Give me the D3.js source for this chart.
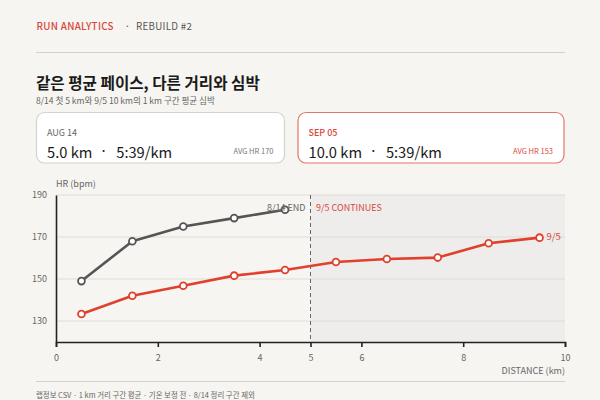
<!DOCTYPE html>
<html><head><meta charset="utf-8">
<script src="https://cdn.jsdelivr.net/npm/d3@7/dist/d3.min.js"></script>
<style>
html,body{margin:0;padding:0;background:#f6f5f1;}
svg{display:block;font-family:"Noto Sans CJK KR","Noto Sans",sans-serif;}
</style></head>
<body><svg id="c" width="600" height="400"></svg>
<script>
const aug14Km = [0.5, 1.5, 2.5, 3.5, 4.5];
const aug14Hr = [149, 168, 175, 179, 183];
const sep05Km = [0.5, 1.5, 2.5, 3.5, 4.5, 5.5, 6.5, 7.5, 8.5, 9.5];
const sep05Hr = [133.3, 142, 146.8, 151.6, 154.3, 158.1, 159.5, 160.2, 167, 169.7];
const xTicks = [0, 2, 4, 5, 6, 8, 10];
const yTicks = [130, 150, 170, 190];
const cards = [
  {date: "AUG 14", dist: "5.0 km", pace: "5:39/km", hr: 170},
  {date: "SEP 05", dist: "10.0 km", pace: "5:39/km", hr: 153}
];

const RED = "#e0402c", GRAY = "#555555", TXTRED = "#d9473b";
const svg = d3.select("#c");
svg.append("rect").attr("width",600).attr("height",400).attr("fill","#f6f5f1");

// scale a text's font size so its drawn width matches the width measured on the reference
function fit(sel, target){
  const fs = +sel.attr("font-size");
  const w = sel.node().getComputedTextLength();
  if (w > 0) sel.attr("font-size", fs * target / w);
  return sel;
}

// header
fit(svg.append("text").attr("x",36.5).attr("y",29.5).attr("font-size",11).attr("font-weight",500)
  .attr("letter-spacing",0.3).attr("fill",TXTRED).text("RUN ANALYTICS"), 77);
svg.append("text").attr("x",127.3).attr("y",29.5).attr("font-size",11).attr("text-anchor","middle").attr("fill","#666").text("·");
fit(svg.append("text").attr("x",136).attr("y",29.5).attr("font-size",11).attr("letter-spacing",0.3)
  .attr("fill","#555").text("REBUILD #2"), 56);
svg.append("line").attr("x1",36).attr("x2",565).attr("y1",52.5).attr("y2",52.5).attr("stroke","#d3d1cc").attr("stroke-width",1);

fit(svg.append("text").attr("x",36).attr("y",89).attr("font-size",16).attr("font-weight",700).attr("fill","#1a1a1a")
  .text("같은 평균 페이스, 다른 거리와 심박"), 224);
fit(svg.append("text").attr("x",36).attr("y",104).attr("font-size",9).attr("fill","#666")
  .text("8/14 첫 5 km와 9/5 10 km의 1 km 구간 평균 심박"), 179);

// cards
const cardX = [[36,285],[297.5,564.5]];
cards.forEach((c,i)=>{
  const [x0,x1] = cardX[i];
  const red = i===1;
  svg.append("rect").attr("x",x0+0.5).attr("y",112.5).attr("width",x1-x0-1).attr("height",50.5).attr("rx",8)
    .attr("fill","#ffffff").attr("stroke", red ? "#e37566" : "#d4d2cd").attr("stroke-width",1.2);
  svg.append("text").attr("x",x0+11).attr("y",135.5).attr("font-size",9).attr("fill", red ? TXTRED : "#666")
    .attr("font-weight", red?500:400).text(c.date);
  const p = svg.append("text").attr("x",0).attr("y",157.5).attr("font-size",16).attr("fill","#1a1a1a").text(c.pace);
  fit(p, 56);
  const fs = +p.attr("font-size");
  const d = svg.append("text").attr("x",x0+11).attr("y",157.5).attr("font-size",fs).attr("fill","#1a1a1a").text(c.dist);
  const dEnd = x0 + 11 + d.node().getComputedTextLength();
  svg.append("text").attr("x",dEnd+11.3).attr("y",155.5).attr("font-size",fs).attr("text-anchor","middle").attr("fill","#1a1a1a").text("·");
  p.attr("x", dEnd + 23.9);
  svg.append("text").attr("x",x1-11.5).attr("y",153.5).attr("font-size",7.5).attr("text-anchor","end")
    .attr("fill", red ? TXTRED : "#777").text("AVG HR  " + c.hr);
});

// chart
const x = d3.scaleLinear().domain([0,10]).range([56,565]);
const y = d3.scaleLinear().domain([120,190]).range([342,195]);

svg.append("rect").attr("x",x(5)).attr("y",y(190)).attr("width",x(10)-x(5)).attr("height",y(120)-y(190)).attr("fill","#eeedeb");

svg.append("g").selectAll("line").data(yTicks).join("line")
  .attr("x1",x(0)).attr("x2",x(10)).attr("y1",d=>y(d)).attr("y2",d=>y(d))
  .attr("stroke","#dedcd7").attr("stroke-width",1);

svg.append("line").attr("x1",x(5)).attr("x2",x(5)).attr("y1",y(190)).attr("y2",y(120))
  .attr("stroke","#666").attr("stroke-width",1).attr("stroke-dasharray","4,3");

// y axis
const ya = svg.append("g").attr("transform",`translate(${x(0)},0)`)
  .call(d3.axisLeft(y).tickValues(yTicks).tickSize(0).tickPadding(9));
ya.select(".domain").attr("stroke","#222").attr("stroke-width",1.6);
ya.selectAll("text").attr("font-size",9).attr("fill","#666").attr("font-family","Noto Sans CJK KR");

// x axis
const xa = svg.append("g").attr("transform",`translate(0,${y(120)})`)
  .call(d3.axisBottom(x).tickValues(xTicks).tickSize(5).tickSizeOuter(5).tickPadding(8));
xa.select(".domain").attr("stroke","#222").attr("stroke-width",1.6);
xa.selectAll(".tick line").attr("stroke","#222").attr("stroke-width",1.6);
xa.selectAll("text").attr("font-size",9).attr("fill","#666").attr("font-family","Noto Sans CJK KR");

svg.append("text").attr("x",x(0)).attr("y",186.5).attr("font-size",9).attr("fill","#666").text("HR (bpm)");
svg.append("text").attr("x",x(10)).attr("y",373.5).attr("font-size",9).attr("fill","#666").attr("text-anchor","end").text("DISTANCE (km)");

// lines
const line = d3.line().x(d=>x(d[0])).y(d=>y(d[1]));
function series(km, hr, color){
  const pts = km.map((k,i)=>[k,hr[i]]);
  svg.append("path").datum(pts).attr("d",line).attr("fill","none").attr("stroke",color).attr("stroke-width",2.6).attr("stroke-linejoin","round");
  svg.append("g").selectAll("circle").data(pts).join("circle")
    .attr("cx",d=>x(d[0])).attr("cy",d=>y(d[1])).attr("r",3.4)
    .attr("fill","#fff").attr("stroke",color).attr("stroke-width",1.8);
}
series(sep05Km, sep05Hr, RED);
series(aug14Km, aug14Hr, GRAY);

svg.append("text").attr("x",x(5)-5).attr("y",210.5).attr("font-size",9).attr("fill","#666").attr("text-anchor","end").text("8/14 END");
svg.append("text").attr("x",x(5)+5.5).attr("y",210.5).attr("font-size",9).attr("fill",TXTRED).text("9/5 CONTINUES");
svg.append("text").attr("x",x(9.5)+7).attr("y",y(sep05Hr[9])+2.5).attr("font-size",9.5).attr("fill",TXTRED).text("9/5");

// footer
svg.append("line").attr("x1",36).attr("x2",565).attr("y1",381.5).attr("y2",381.5).attr("stroke","#d3d1cc");
fit(svg.append("text").attr("x",36).attr("y",397.5).attr("font-size",8).attr("fill","#666")
  .text("랩정보 CSV · 1 km 거리 구간 평균 · 기온 보정 전 · 8/14 정리 구간 제외"), 219);
</script></body></html>
